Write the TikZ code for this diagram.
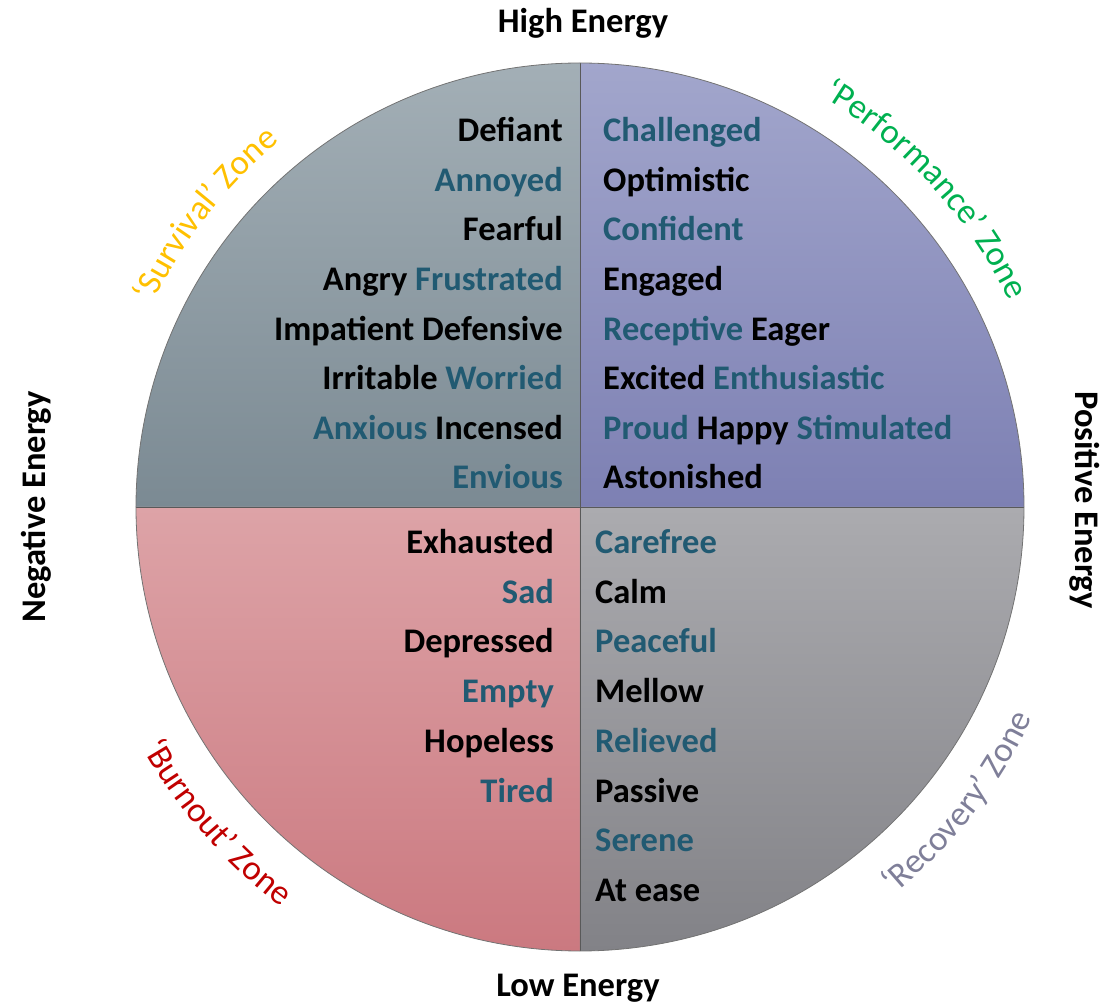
\documentclass[tikz,border=0pt]{standalone}
\usepackage{fontspec}
\setmainfont{Carlito}
\usetikzlibrary{decorations.text}
\definecolor{teal}{HTML}{215A72}
\definecolor{tlA}{HTML}{A3AFB6}\definecolor{tlB}{HTML}{7B8A93}
\definecolor{trA}{HTML}{A2A6CC}\definecolor{trB}{HTML}{7D80B3}
\definecolor{blA}{HTML}{DDA3A7}\definecolor{blB}{HTML}{CB7980}
\definecolor{brA}{HTML}{ABABAF}\definecolor{brB}{HTML}{828287}
\definecolor{survcol}{HTML}{FFC000}
\definecolor{perfcol}{HTML}{00B050}
\definecolor{burncol}{HTML}{C00000}
\definecolor{recocol}{HTML}{7F7F99}
\newcommand{\wordfont}{\fontsize{34.5}{40}\selectfont\bfseries}
\newcommand{\zonefont}{\fontsize{35}{40}\selectfont}
\newcommand{\tl}[1]{\textcolor{teal}{#1}}
\tikzset{
  wordR/.style={anchor=base east, inner sep=0pt, font=\wordfont, text=black},
  wordL/.style={anchor=base west, inner sep=0pt, font=\wordfont, text=black},
  axislabel/.style={inner sep=0pt, font=\wordfont, text=black},
  divider/.style={draw=black!65, line width=0.9pt},
}
\begin{document}
\begin{tikzpicture}[x=1pt,y=1pt]
\useasboundingbox (-580,-499) rectangle (526,507);
\def\R{444}
% quadrants
\shade[top color=tlA, bottom color=tlB] (0,0) -- (-\R,0) arc[start angle=180,end angle=90,radius=\R] -- cycle;
\shade[top color=trA, bottom color=trB] (0,0) -- (0,\R) arc[start angle=90,end angle=0,radius=\R] -- cycle;
\shade[top color=blA, bottom color=blB] (0,0) -- (-\R,0) arc[start angle=180,end angle=270,radius=\R] -- cycle;
\shade[top color=brA, bottom color=brB] (0,0) -- (0,-\R) arc[start angle=270,end angle=360,radius=\R] -- cycle;
\coordinate (C) at (0,0);
\coordinate (N) at (0,\R);
\coordinate (S) at (0,-\R);
\coordinate (W) at (-\R,0);
\coordinate (E) at (\R,0);
\draw[divider] (N) -- (S);
\draw[divider] (W) -- (E);
\draw[draw=black!55, line width=0.8pt] (C) circle[radius=\R];

% top-left words
\node[wordR] (tl1) at (-17,365) {Defiant};
\node[wordR] (tl2) at (-17,315) {\tl{Annoyed}};
\node[wordR] (tl3) at (-17,266) {Fearful};
\node[wordR] (tl4) at (-17,216) {Angry \tl{Frustrated}};
\node[wordR] (tl5) at (-17,166) {Impatient Defensive};
\node[wordR] (tl6) at (-17,117) {Irritable \tl{Worried}};
\node[wordR] (tl7) at (-17,67) {\tl{Anxious} Incensed};
\node[wordR] (tl8) at (-17,18) {\tl{Envious}};
% top-right words
\node[wordL] (tr1) at (23,365) {\tl{Challenged}};
\node[wordL] (tr2) at (23,315) {Optimistic};
\node[wordL] (tr3) at (23,266) {\tl{Confident}};
\node[wordL] (tr4) at (23,216) {Engaged};
\node[wordL] (tr5) at (23,166) {\tl{Receptive} Eager};
\node[wordL] (tr6) at (23,117) {Excited \tl{Enthusiastic}};
\node[wordL] (tr7) at (23,67) {\tl{Proud} Happy \tl{Stimulated}};
\node[wordL] (tr8) at (23,18) {Astonished};
% bottom-left words
\node[wordR] (bl1) at (-26,-47) {Exhausted};
\node[wordR] (bl2) at (-26,-97) {\tl{Sad}};
\node[wordR] (bl3) at (-26,-146) {Depressed};
\node[wordR] (bl4) at (-26,-196) {\tl{Empty}};
\node[wordR] (bl5) at (-26,-245) {Hopeless};
\node[wordR] (bl6) at (-26,-295) {\tl{Tired}};
% bottom-right words
\node[wordL] (br1) at (15,-47) {\tl{Carefree}};
\node[wordL] (br2) at (15,-97) {Calm};
\node[wordL] (br3) at (15,-146) {\tl{Peaceful}};
\node[wordL] (br4) at (15,-196) {Mellow};
\node[wordL] (br5) at (15,-245) {\tl{Relieved}};
\node[wordL] (br6) at (15,-295) {Passive};
\node[wordL] (br7) at (15,-344) {\tl{Serene}};
\node[wordL] (br8) at (15,-394) {At ease};

% axis labels
\node[axislabel] (high) at (3,484) {High Energy};
\node[axislabel] (low) at (-2,-481) {Low Energy};
\node[axislabel, rotate=90] (neg) at (-544,0) {Negative Energy};
\node[axislabel, rotate=-90] (pos) at (505,7) {Positive Energy};

% zone labels along arcs
\path[decorate, decoration={text along path, text align=center, text color=survcol,
  text={|\zonefont|‘Survival’ Zone}}]
  (172:473) arc[start angle=172, end angle=112, radius=473];
\path[decorate, decoration={text along path, text align=center, text color=perfcol,
  text={|\zonefont|‘Performance’ Zone}}]
  (73:476) arc[start angle=73, end angle=12, radius=476];
\path[decorate, decoration={text along path, text align=center, text color=burncol,
  text={|\zonefont|‘Burnout’ Zone}}]
  (190:499) arc[start angle=190, end angle=252, radius=499];
\path[decorate, decoration={text along path, text align=center, text color=recocol,
  text={|\zonefont|‘Recovery’ Zone}}]
  (292:499) arc[start angle=292, end angle=352, radius=499];
\end{tikzpicture}
\end{document}
